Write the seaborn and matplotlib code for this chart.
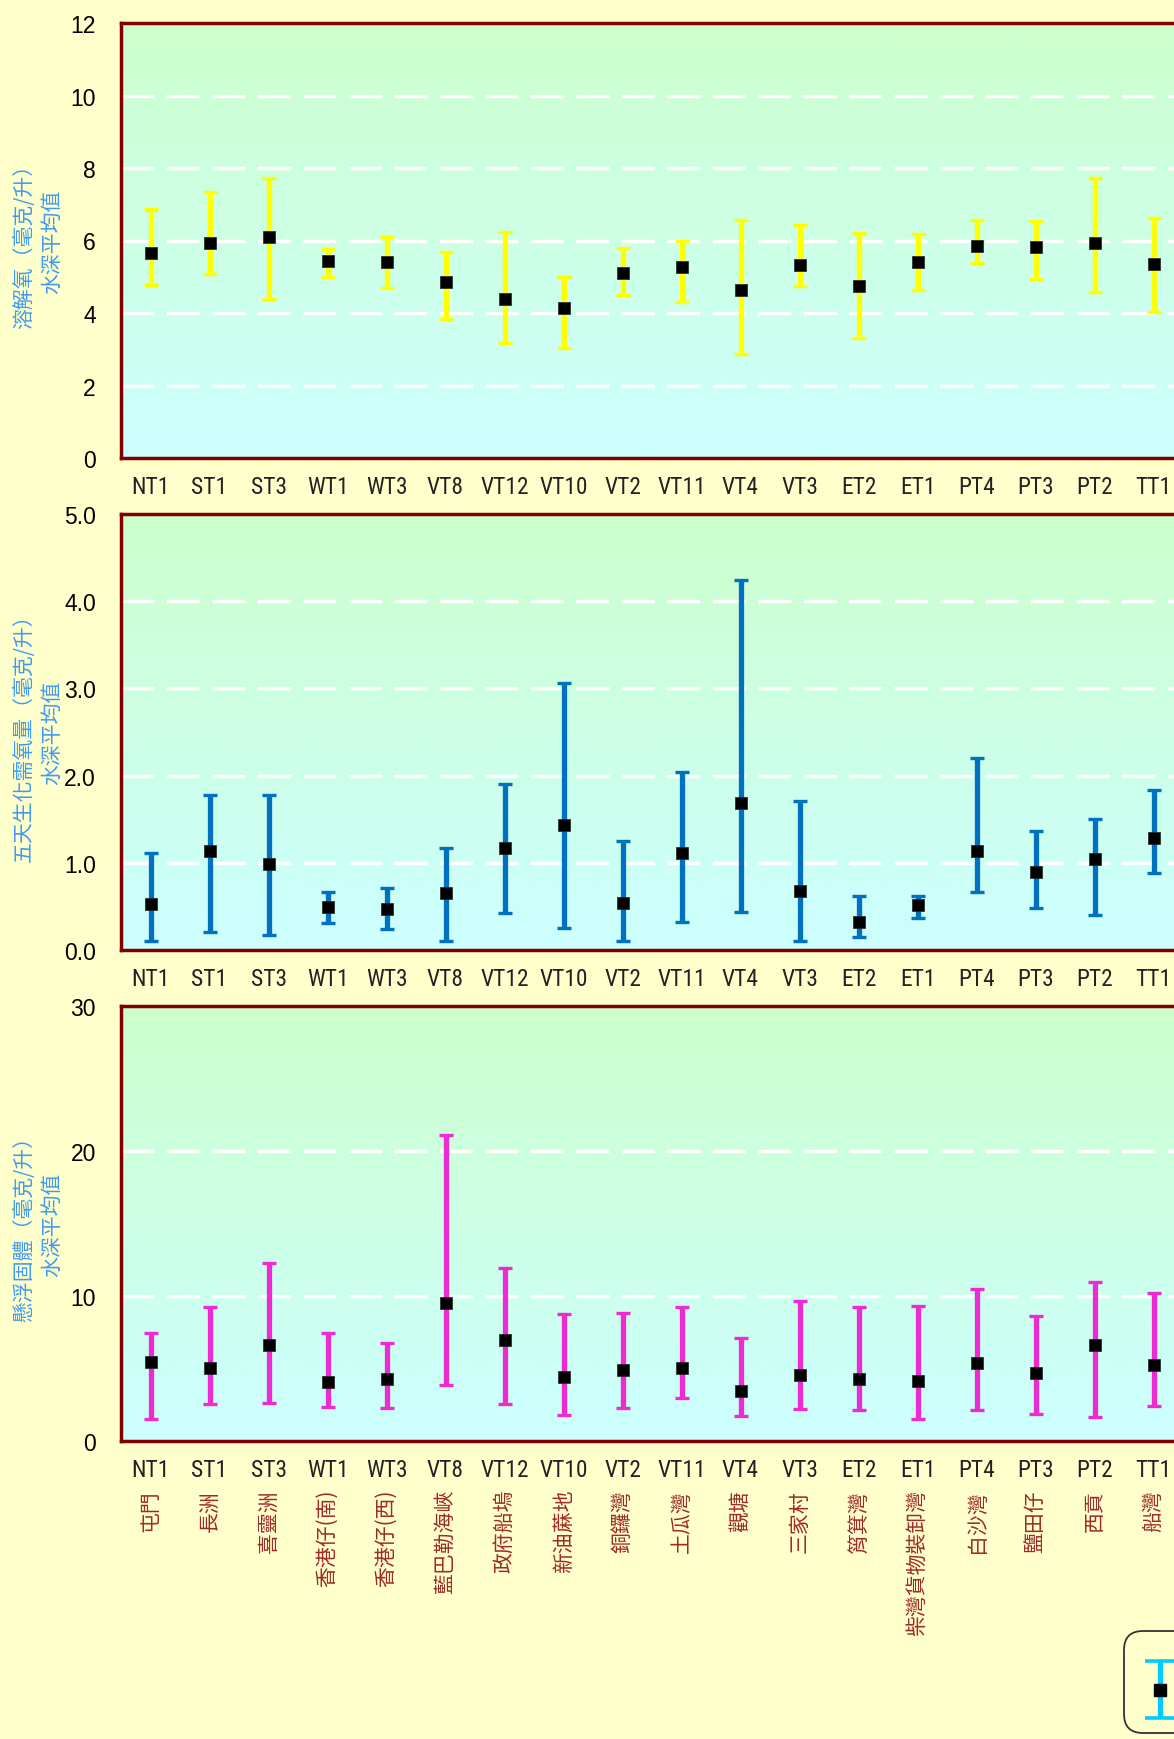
import numpy as np
import pandas as pd
import matplotlib
matplotlib.use("Agg")
import matplotlib.pyplot as plt
from matplotlib.colors import LinearSegmentedColormap
from matplotlib.legend_handler import HandlerErrorbar
from matplotlib.container import ErrorbarContainer
import seaborn as sns

# ---- station codes and names ----
stations = ["NT1", "ST1", "ST3", "WT1", "WT3", "VT8", "VT12", "VT10", "VT2",
            "VT11", "VT4", "VT3", "ET2", "ET1", "PT4", "PT3", "PT2", "TT1"]
station_names = ["屯門", "長洲", "喜靈洲", "香港仔(南)", "香港仔(西)", "藍巴勒海峽",
                 "政府船塢", "新油蔴地", "銅鑼灣", "土瓜灣", "觀塘", "三家村",
                 "筲箕灣", "柴灣貨物裝卸灣", "白沙灣", "鹽田仔", "西貢", "船灣"]

# ---- dissolved oxygen (mg/L), depth-averaged ----
do_mean = [5.66, 5.93, 6.11, 5.44, 5.41, 4.86, 4.38, 4.15, 5.10,
           5.27, 4.63, 5.32, 4.74, 5.41, 5.86, 5.83, 5.94, 5.36]
do_max = [6.87, 7.35, 7.72, 5.77, 6.09, 5.67, 6.23, 4.98, 5.78,
          6.00, 6.56, 6.42, 6.20, 6.17, 6.57, 6.53, 7.73, 6.61]
do_min = [4.78, 5.08, 4.39, 4.99, 4.68, 3.83, 3.16, 3.03, 4.51,
          4.30, 2.86, 4.74, 3.32, 4.64, 5.39, 4.93, 4.57, 4.02]

# ---- 5-day BOD (mg/L), depth-averaged ----
bod_mean = [0.53, 1.14, 0.99, 0.49, 0.47, 0.65, 1.17, 1.43, 0.54,
            1.11, 1.69, 0.68, 0.32, 0.52, 1.13, 0.90, 1.04, 1.28]
bod_max = [1.11, 1.78, 1.78, 0.66, 0.71, 1.17, 1.90, 3.06, 1.25,
           2.04, 4.24, 1.71, 0.62, 0.62, 2.20, 1.37, 1.50, 1.83]
bod_min = [0.10, 0.21, 0.17, 0.31, 0.24, 0.10, 0.43, 0.25, 0.10,
           0.32, 0.44, 0.10, 0.15, 0.37, 0.67, 0.48, 0.40, 0.88]

# ---- suspended solids (mg/L), depth-averaged ----
ss_mean = [5.48, 5.06, 6.62, 4.09, 4.25, 9.54, 6.97, 4.39, 4.90,
           5.06, 3.43, 4.58, 4.28, 4.14, 5.38, 4.69, 6.62, 5.24]
ss_max = [7.48, 9.27, 12.30, 7.48, 6.78, 21.08, 11.96, 8.78, 8.85,
          9.27, 7.13, 9.68, 9.27, 9.34, 10.51, 8.65, 10.99, 10.23]
ss_min = [1.54, 2.58, 2.65, 2.37, 2.26, 3.84, 2.58, 1.77, 2.30,
          2.99, 1.70, 2.23, 2.16, 1.54, 2.16, 1.89, 1.68, 2.44]

# ---- panel settings ----
panel_labels = ["溶解氧（毫克/升）\n水深平均值",
                "五天生化需氧量（毫克/升）\n水深平均值",
                "懸浮固體（毫克/升）\n水深平均值"]
panel_ticks = [[0, 2, 4, 6, 8, 10, 12],
               [0, 1, 2, 3, 4, 5],
               [0, 10, 20, 30]]
panel_fmt = ["{:.0f}", "{:.1f}", "{:.0f}"]
panel_colors = ["#FFFF00", "#0070C0", "#EE2AD2"]

sns.set_theme(style="white")
plt.rcParams["font.family"] = ["Liberation Sans", "Noto Sans CJK TC", "DejaVu Sans"]

BG = "#FFFFCC"
SPINE = "#800000"
LABEL_BLUE = "#3F9AF2"
NAME_RED = "#9C2A2A"
CJK = ["Noto Sans CJK TC", "DejaVu Sans"]
NARROW = ["Liberation Sans Narrow", "Roboto Condensed", "Roboto", "DejaVu Sans"]

W, H = 1174, 1740
fig = plt.figure(figsize=(W / 100, H / 100), dpi=100, facecolor=BG)

left = 121 / W
width = 1062 / W
panel_px = [(24, 459), (515, 951), (1007, 1442)]

grad_cmap = LinearSegmentedColormap.from_list("bg", ["#CCFFFF", "#CCFFCC"])

datasets = [(do_mean, do_min, do_max),
            (bod_mean, bod_min, bod_max),
            (ss_mean, ss_min, ss_max)]

axes = []
for k, (top_px, bot_px) in enumerate(panel_px):
    ax = fig.add_axes([left, 1 - bot_px / H, width, (bot_px - top_px) / H])
    axes.append(ax)
    mean, lo, hi = (np.asarray(a, dtype=float) for a in datasets[k])
    df = pd.DataFrame({"站": stations, "平均": mean, "最低": lo, "最高": hi})

    # vertical gradient behind the plot area
    ax.imshow(np.linspace(0, 1, 256).reshape(-1, 1), cmap=grad_cmap, origin="lower",
              extent=[0, 1, 0, 1], transform=ax.transAxes, aspect="auto", zorder=0)

    # range bars
    ax.errorbar(df["站"], df["平均"], yerr=[df["平均"] - df["最低"], df["最高"] - df["平均"]],
                fmt="none", ecolor=panel_colors[k], elinewidth=3.8, capsize=4.8,
                capthick=2.4, zorder=3)
    # mean markers
    sns.scatterplot(data=df, x="站", y="平均", ax=ax, marker="s", s=80,
                    color="black", edgecolor="#222222", linewidth=0.5, zorder=4)

    ticks = panel_ticks[k]
    ax.set_xlim(-0.5, len(stations) - 0.5)
    ax.set_ylim(ticks[0], ticks[-1])
    ax.set_yticks(ticks)
    ax.set_yticklabels([panel_fmt[k].format(t) for t in ticks])
    ax.set_xticks(range(len(stations)))
    ax.set_xticklabels(stations, family=NARROW, fontsize=16.8, color="#222222")
    ax.set_xlabel("")
    ax.set_ylabel(panel_labels[k], color=LABEL_BLUE, fontsize=15, family=CJK,
                  linespacing=1.35)
    ax.yaxis.set_label_coords(-0.0545, 0.5)

    ax.grid(False)
    for t in ticks[1:-1]:
        ax.axhline(t, color="white", linewidth=2.5, dashes=(9.5, 3.6), zorder=1)

    ax.tick_params(axis="y", direction="in", length=5, width=2, color=SPINE,
                   labelsize=16.5, labelcolor="black", pad=18, left=True)
    ax.tick_params(axis="x", length=0, pad=12)
    for side in ["left", "top", "bottom"]:
        ax.spines[side].set_color(SPINE)
        ax.spines[side].set_linewidth(2.5)
        ax.spines[side].set_zorder(5)
    ax.spines["right"].set_visible(False)

# station names beneath the bottom panel
ax3 = axes[-1]
for i, name in enumerate(station_names):
    ax3.annotate(name, xy=(i, 0), xycoords=("data", "axes fraction"),
                 xytext=(0, -34.5), textcoords="offset points", rotation=90,
                 ha="center", va="top", fontsize=15, color=NAME_RED, family=CJK,
                 annotation_clip=False)


class CenteredErrorbarHandler(HandlerErrorbar):
    """Error-bar legend key placed near the vertical middle of its handle box."""

    def __init__(self, shift=0.0, **kwargs):
        super().__init__(**kwargs)
        self._shift = shift

    def create_artists(self, legend, orig_handle, xdescent, ydescent,
                       width, height, fontsize, trans):
        return super().create_artists(legend, orig_handle, xdescent,
                                      2 * ydescent + self._shift,
                                      width, height, fontsize, trans)


# legend key: mean marker with range bar
key = ax3.errorbar([0], [np.nan], yerr=[[1.0], [1.0]], fmt="s", color="black",
                   markersize=9, ecolor="#00CCFF", elinewidth=3.8, capsize=10.5,
                   capthick=2.6)
leg = fig.legend(handles=[key], labels=[""], loc="upper left",
                 bbox_to_anchor=(1124 / W, 1 - 1632 / H), borderaxespad=0,
                 fontsize=15, handlelength=2.3, handleheight=5.3, borderpad=0.6,
                 frameon=True, fancybox=True, facecolor=BG, edgecolor="#333333",
                 framealpha=1,
                 handler_map={ErrorbarContainer: CenteredErrorbarHandler(shift=11,
                                                                         yerr_size=1.37)})
leg.get_frame().set_linewidth(1.3)
leg.get_frame().set_boxstyle("round,pad=0,rounding_size=0.9")

fig.savefig("out.png", dpi=100, facecolor=BG)
